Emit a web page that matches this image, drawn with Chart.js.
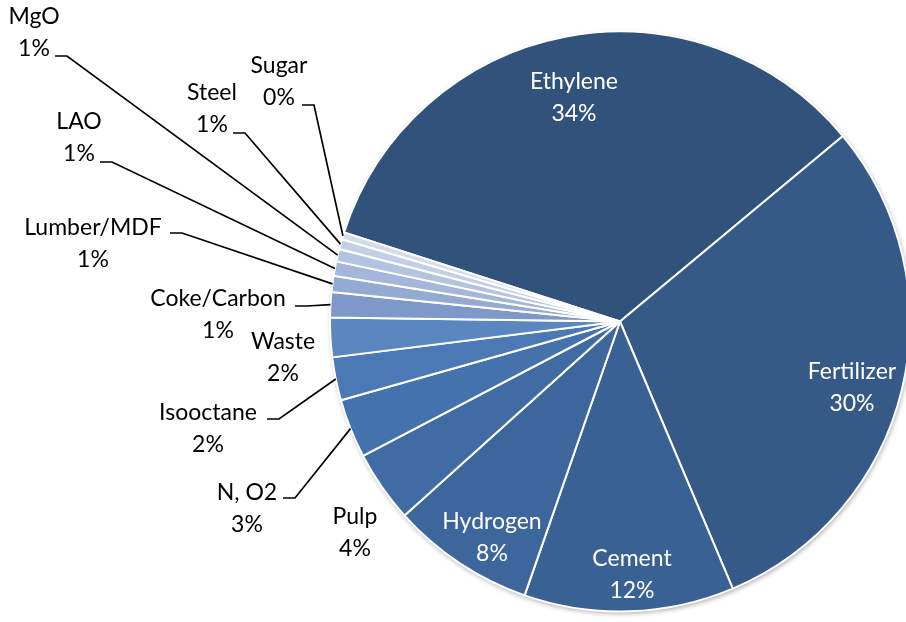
<!DOCTYPE html>
<html>
<head>
<meta charset="utf-8">
<script src="https://cdn.jsdelivr.net/npm/chart.js@4.4.0/dist/chart.umd.min.js"></script>
<style>
  html, body { margin: 0; padding: 0; background: #fff; overflow: hidden; }
  #wrap { position: relative; width: 930px; height: 622px; }
</style>
</head>
<body>
<div id="wrap"><canvas id="pie"></canvas></div>
<script>
// data (share of total, %)
const categories = ['Ethylene', 'Fertilizer', 'Cement', 'Hydrogen', 'Pulp', 'N, O2', 'Isooctane', 'Waste',
                    'Coke/Carbon', 'Lumber/MDF', 'LAO', 'MgO', 'Steel', 'Sugar'];
const shares = [34.0, 29.7, 11.7, 8.0, 4.0, 3.3, 2.4, 2.2, 1.4, 0.9, 0.8, 0.7, 0.55, 0.4];
const sliceColors = ['#31527b', '#365a88', '#3a6194', '#3d669d', '#406ba5', '#4472ad', '#4a79b5', '#5b87c0',
                     '#7d98c9', '#93aad2', '#a4b6d9', '#b4c3df', '#c3cfe6', '#d3dbec'];

// label placement (text centre, optional leader start), like the Excel layout
const labelLayout = {
    'Ethylene':    { x: 574, y: 82,  color: '#fff' },
    'Fertilizer':  { x: 852, y: 372, color: '#fff' },
    'Cement':      { x: 632, y: 559, color: '#fff' },
    'Hydrogen':    { x: 492, y: 522, color: '#fff' },
    'Pulp':        { x: 355, y: 517 },
    'N, O2':       { x: 247, y: 493, lead: [283, 498] },
    'Isooctane':   { x: 208, y: 413, lead: [267, 419] },
    'Waste':       { x: 283, y: 342 },
    'Coke/Carbon': { x: 218, y: 299, lead: [295, 306] },
    'Lumber/MDF':  { x: 93,  y: 228, lead: [170, 233] },
    'LAO':         { x: 79,  y: 122, lead: [100, 162] },
    'MgO':         { x: 34,  y: 17,  lead: [55, 56] },
    'Steel':       { x: 212, y: 93,  lead: [233, 133] },
    'Sugar':       { x: 279, y: 66,  lead: [302, 105] }
};

const pieShadow = {
    id: 'pieShadow',
    beforeDatasetsDraw(chart) {
        const arc = chart.getDatasetMeta(0).data[0];
        if (!arc) return;
        const ctx = chart.ctx;
        ctx.save();
        ctx.shadowColor = 'rgba(0,0,0,0.35)';
        ctx.shadowBlur = 5;
        ctx.shadowOffsetX = 1;
        ctx.shadowOffsetY = 2;
        ctx.fillStyle = '#fff';
        ctx.beginPath();
        ctx.arc(arc.x, arc.y, arc.outerRadius, 0, Math.PI * 2);
        ctx.fill();
        ctx.restore();
    }
};

const sliceLabels = {
    id: 'sliceLabels',
    afterDatasetsDraw(chart) {
        const ctx = chart.ctx;
        const meta = chart.getDatasetMeta(0);
        const total = shares.reduce((a, b) => a + b, 0);
        ctx.save();
        ctx.font = '23px Lato, "Open Sans", sans-serif';
        ctx.textAlign = 'center';
        ctx.textBaseline = 'middle';
        meta.data.forEach((arc, i) => {
            const name = categories[i];
            const lay = labelLayout[name];
            if (!lay) return;
            const pct = Math.round(shares[i] / total * 100) + '%';
            if (lay.lead) {
                const mid = (arc.startAngle + arc.endAngle) / 2;
                const ex = arc.x + Math.cos(mid) * arc.outerRadius;
                const ey = arc.y + Math.sin(mid) * arc.outerRadius;
                ctx.strokeStyle = '#000';
                ctx.lineWidth = 1.7;
                ctx.beginPath();
                ctx.moveTo(lay.lead[0], lay.lead[1]);
                ctx.lineTo(lay.lead[0] + 12, lay.lead[1]);
                ctx.lineTo(ex, ey);
                ctx.stroke();
            }
            ctx.fillStyle = lay.color || '#000';
            ctx.fillText(name, lay.x, lay.y);
            ctx.fillText(pct, lay.x, lay.y + 32);
        });
        ctx.restore();
    }
};

new Chart(document.getElementById('pie'), {
    type: 'pie',
    data: {
        labels: categories,
        datasets: [{ data: shares, backgroundColor: sliceColors, borderColor: '#fff', borderWidth: 2 }]
    },
    options: {
        responsive: true,
        maintainAspectRatio: false,
        animation: false,
        rotation: -72.1,
        layout: { padding: { left: 329, right: 19, top: 30, bottom: 9 } },
        plugins: { legend: { display: false }, tooltip: { enabled: false } }
    },
    plugins: [pieShadow, sliceLabels]
});
</script>
</body>
</html>
